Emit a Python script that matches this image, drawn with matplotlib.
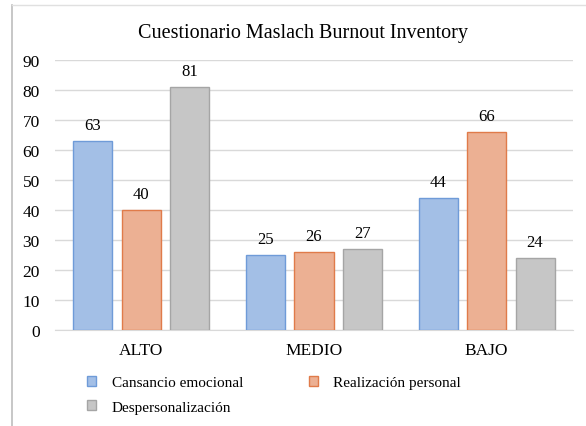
import numpy as np
import matplotlib
matplotlib.use("Agg")
import matplotlib.pyplot as plt
from matplotlib.lines import Line2D

categories = ["ALTO", "MEDIO", "BAJO"]
series = ["Cansancio emocional", "Realización personal", "Despersonalización"]
cansancio = [63, 25, 44]
realizacion = [40, 26, 66]
despers = [81, 27, 24]

faces = ["#a3bfe6", "#ecb093", "#c6c6c6"]
edges = ["#6f9bd8", "#e07b4a", "#a5a5a5"]

plt.rcParams["font.family"] = ["Liberation Serif", "DejaVu Serif"]

fig = plt.figure(figsize=(5.86, 4.27), dpi=100)
ax = fig.add_axes([55 / 586, 1 - 331 / 427, 518 / 586, 270 / 427])

x = np.arange(len(categories))
width = 0.226
step = 0.28
handles = []
for i, vals in enumerate([cansancio, realizacion, despers]):
    pos = x + (i - 1) * step
    bars = ax.bar(pos, vals, width, color=faces[i], edgecolor=edges[i],
                  linewidth=1.0, label=series[i], zorder=3)
    handles.append(bars)
    for b, v in zip(bars, vals):
        ax.text(b.get_x() + b.get_width() / 2, v + 2.6, str(v),
                ha="center", va="bottom", fontsize=12)

ax.set_xlim(-0.5, 2.5)
ax.set_ylim(0, 90)
ax.set_yticks(range(0, 91, 10))
ax.set_xticks(x)
ax.set_xticklabels(categories)
ax.tick_params(axis="both", length=0, labelsize=12.5)
ax.tick_params(axis="x", pad=9)
ax.tick_params(axis="y", pad=11)
ax.grid(axis="y", color="#d9d9d9", linewidth=1.0, zorder=0)
for s in ["top", "right", "left"]:
    ax.spines[s].set_visible(False)
ax.spines["bottom"].set_color("#d9d9d9")

fig.text(0.517, 0.922, "Cuestionario Maslach Burnout Inventory",
         ha="center", va="center", fontsize=14.5)

# order so that row 1 = Cansancio, Realizacion ; row 2 = Despersonalizacion
order = [0, 2, 1]
fig.legend([handles[k] for k in order], [series[k] for k in order],
           loc="upper left", bbox_to_anchor=(0.149, 0.117), ncol=2,
           frameon=False, fontsize=11, handlelength=0.6, handleheight=0.6,
           handletextpad=1.0, columnspacing=4.3, labelspacing=0.72,
           borderaxespad=0, borderpad=0)

# outer frame lines (left and top)
fig.add_artist(Line2D([12 / 586, 12 / 586], [0, 1 - 6 / 427],
                      transform=fig.transFigure, color="#bdbdbd", lw=1.2))
fig.add_artist(Line2D([12 / 586, 1], [1 - 6 / 427, 1 - 6 / 427],
                      transform=fig.transFigure, color="#e0e0e0", lw=1.0))

fig.savefig("out.png", dpi=100)
